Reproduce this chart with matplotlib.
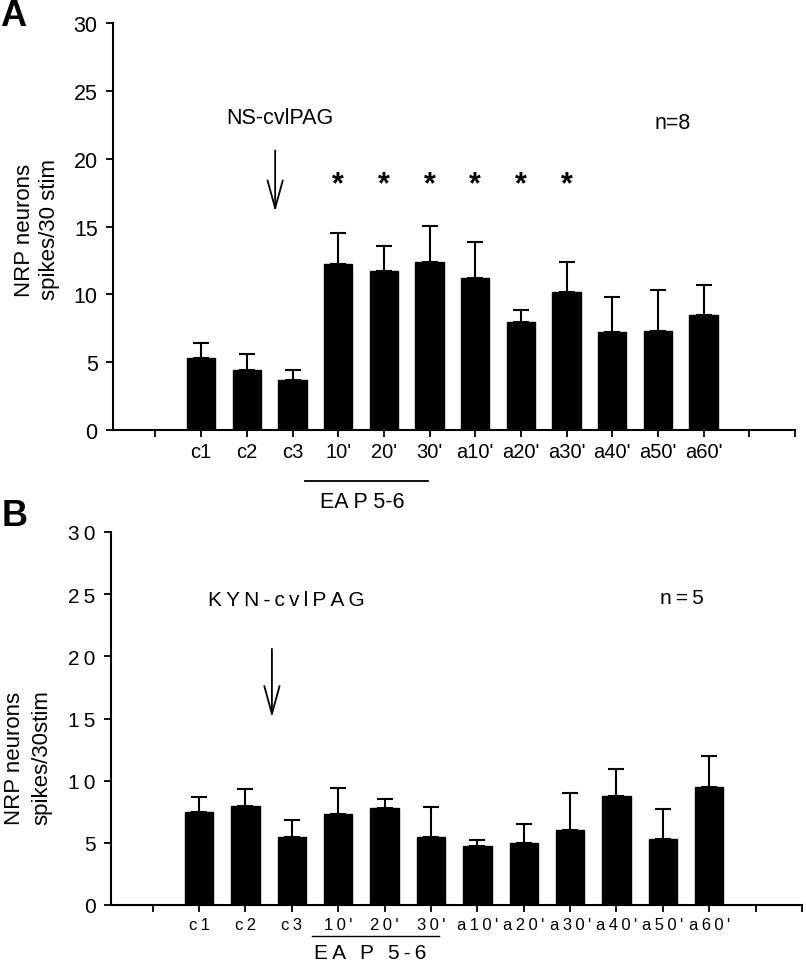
import matplotlib
matplotlib.use("Agg")
import matplotlib.pyplot as plt
import numpy as np

plt.rcParams['font.family'] = ['Liberation Sans', 'DejaVu Sans']

# ---------------- data ----------------
categories = ["c1", "c2", "c3", "10'", "20'", "30'", "a10'", "a20'", "a30'", "a40'", "a50'", "a60'"]

a_means = [5.3, 4.45, 3.7, 12.2, 11.7, 12.4, 11.2, 7.95, 10.2, 7.2, 7.3, 8.5]
a_err_top = [6.4, 5.6, 4.45, 14.55, 13.55, 15.05, 13.85, 8.85, 12.35, 9.8, 10.35, 10.7]
a_star_cats = ["10'", "20'", "30'", "a10'", "a20'", "a30'"]

b_means = [7.5, 8.0, 5.5, 7.3, 7.8, 5.5, 4.75, 5.0, 6.0, 8.75, 5.3, 9.5]
b_err_top = [8.7, 9.3, 6.8, 9.4, 8.5, 7.9, 5.25, 6.5, 9.0, 10.95, 7.75, 12.0]

yticks = [0, 5, 10, 15, 20, 25, 30]

TS = "\u2009"  # thin space used for letter-spaced text in panel B


def spaced(s):
    return TS.join(list(s))


fig = plt.figure(figsize=(8.06, 9.62), dpi=100)

x = np.arange(len(categories))


def style_axes(ax, xl, ytick_labels, xtick_labels, ysize, xsize):
    ax.set_xlim(*xl)
    ax.set_ylim(0, 30)
    for s in ["top", "right"]:
        ax.spines[s].set_visible(False)
    for s in ["left", "bottom"]:
        ax.spines[s].set_linewidth(1.5)
    ax.set_yticks(yticks)
    ax.set_yticklabels(ytick_labels, fontsize=ysize)
    ticks = [-1] + list(x) + [len(categories), len(categories) + 1]
    ax.set_xticks(ticks)
    ax.set_xticklabels([""] + xtick_labels + ["", ""], fontsize=xsize)
    ax.tick_params(axis="both", direction="out", length=5, width=1.3, color="black")
    ax.tick_params(axis="y", pad=6)
    ax.tick_params(axis="x", pad=4)


def draw_bars(ax, means, tops, width):
    ax.bar(x, means, width=width, color="black", edgecolor="black", zorder=2)
    upper = np.array(tops) - np.array(means)
    ax.errorbar(x, means, yerr=[np.zeros_like(upper), upper], fmt="none",
                ecolor="black", elinewidth=1.5, capsize=6, capthick=1.5, zorder=1)


# ---------------- Panel A ----------------
axA = fig.add_axes([113 / 806, 1 - 431 / 962, 682 / 806, 407 / 962])
draw_bars(axA, a_means, a_err_top, 0.62)
style_axes(axA, (-1.93, 13), [str(v) for v in yticks], categories, 15.5, 14.5)

for c in a_star_cats:
    axA.text(categories.index(c), 18.15, "*", fontsize=22, fontweight="bold",
             ha="center", va="center")

axA.text(1.73, 23.0, "NS-cvlPAG", fontsize=15.5, ha="center", va="center")
axA.annotate("", xy=(1.62, 16.1), xytext=(1.62, 20.6),
             arrowprops=dict(arrowstyle="->,head_length=2.0,head_width=0.55",
                             lw=1.3, color="black", shrinkA=0, shrinkB=0,
                             mutation_scale=10))
axA.text(10.33, 22.7, "n=8", fontsize=15.5, ha="center", va="center")

axA.plot([2.28, 4.96], [-3.76, -3.76], color="black", lw=1.3, clip_on=False)
axA.text(3.53, -5.25, "EA P 5-6", fontsize=15.5, ha="center", va="center")

fig.text(37 / 806, 1 - 230 / 962, "NRP neurons\nspikes/30 stim", rotation=90,
         fontsize=16, ha="center", va="center", multialignment="center",
         linespacing=1.3)
fig.text(13 / 806, 1 - 16 / 962, "A", fontsize=26, fontweight="bold",
         ha="center", va="center")

# ---------------- Panel B ----------------
axB = fig.add_axes([111 / 806, 1 - 906 / 962, 691 / 806, 373 / 962])
draw_bars(axB, b_means, b_err_top, 0.61)
style_axes(axB, (-1.9, 13), [spaced(str(v)) for v in yticks],
           [spaced(c) for c in categories], 15, 12)

axB.text(1.87, 24.6, spaced("KYN-cvlPAG"), fontsize=15, ha="center", va="center")
axB.annotate("", xy=(1.57, 15.1), xytext=(1.57, 20.6),
             arrowprops=dict(arrowstyle="->,head_length=2.0,head_width=0.55",
                             lw=1.3, color="black", shrinkA=0, shrinkB=0,
                             mutation_scale=10))
axB.text(10.4, 24.7, spaced("n=5"), fontsize=15, ha="center", va="center")

axB.plot([2.44, 5.17], [-2.49, -2.49], color="black", lw=1.0, clip_on=False)
axB.text(3.69, -3.8, spaced("EA P 5-6"), fontsize=15, ha="center", va="center")

fig.text(28 / 806, 1 - 758 / 962, "NRP neurons\nspikes/30stim", rotation=90,
         fontsize=16, ha="center", va="center", multialignment="center",
         linespacing=1.4)
fig.text(15 / 806, 1 - 517 / 962, "B", fontsize=26, fontweight="bold",
         ha="center", va="center")

fig.savefig("out.png", dpi=100)
